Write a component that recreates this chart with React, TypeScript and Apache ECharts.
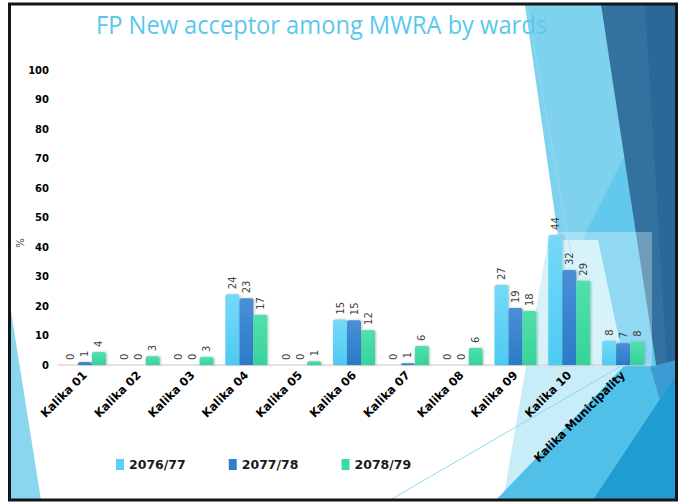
import React, { useEffect, useRef } from "react";
import * as echarts from "echarts";

const categories = [
  "Kalika 01", "Kalika 02", "Kalika 03", "Kalika 04", "Kalika 05", "Kalika 06",
  "Kalika 07", "Kalika 08", "Kalika 09", "Kalika 10", "Kalika Municipality",
];
const seriesNames = ["2076/77", "2077/78", "2078/79"];
const values2076 = [0, 0, 0, 24, 0, 15.4, 0, 0, 27.1, 44.1, 8.2];
const values2077 = [1, 0, 0, 22.6, 0, 15.2, 0.6, 0, 19.3, 32.2, 7.4];
const values2078 = [4.4, 3, 2.7, 17, 1.3, 11.9, 6.4, 5.8, 18.3, 28.6, 7.9];
const yTicks = [0, 10, 20, 30, 40, 50, 60, 70, 80, 90, 100];

const barColors = [
  ["#76d9f9", "#4ccbf3"],
  ["#4a8fd6", "#2a7bc7"],
  ["#52e0ac", "#35d39a"],
];
const legendColors = ["#5ccff3", "#2f80c8", "#3dd9a5"];

export default function App() {
  const ref = useRef<HTMLDivElement>(null);
  useEffect(() => {
    if (!ref.current) return;
    const chart = echarts.init(ref.current, undefined, { renderer: "svg" });
    const data = [values2076, values2077, values2078];
    const series = seriesNames.map((name, i) => ({
      name,
      type: "bar",
      data: data[i],
      barWidth: 14,
      barGap: "0%",
      itemStyle: {
        color: new echarts.graphic.LinearGradient(0, 0, 0, 1, [
          { offset: 0, color: barColors[i][0] },
          { offset: 1, color: barColors[i][1] },
        ]),
        borderRadius: [2, 2, 0, 0],
        shadowColor: "rgba(0,0,0,0.25)",
        shadowBlur: 2,
        shadowOffsetX: 1,
      },
      label: {
        show: true,
        position: "top",
        rotate: 90,
        align: "left",
        verticalAlign: "middle",
        distance: 5,
        color: "#404040",
        fontSize: 10,
        fontFamily: "DejaVu Sans",
        formatter: (p: any) => String(Math.round(p.value)),
      },
    }));

    const poly = (z: number, points: number[][], fill: string) => ({
      type: "polygon",
      z,
      silent: true,
      shape: { points },
      style: { fill },
    });

    chart.setOption({
      animation: false,
      backgroundColor: "#ffffff",
      legend: {
        data: seriesNames.map((n, i) => ({ name: n, itemStyle: { color: legendColors[i] } })),
        left: 111,
        top: 453,
        itemWidth: 8,
        itemHeight: 11,
        itemGap: 43,
        icon: "rect",
        textStyle: { fontSize: 12.5, fontWeight: "bold", color: "#1a1a1a", fontFamily: "DejaVu Sans" },
      },
      grid: { left: 58, right: 33, top: 70, bottom: 137 },
      xAxis: {
        type: "category",
        data: categories,
        axisLine: { lineStyle: { color: "#d9d9d9", width: 1.5 } },
        axisTick: { show: false },
        axisLabel: {
          interval: 0,
          rotate: 45,
          margin: 8,
          fontSize: 11.5,
          fontWeight: "bold",
          color: "#000",
          fontFamily: "DejaVu Sans",
        },
      },
      yAxis: {
        type: "value",
        min: 0,
        max: 100,
        interval: 10,
        axisLine: { show: false },
        axisTick: { show: false },
        splitLine: { show: false },
        axisLabel: {
          margin: 9,
          fontSize: 10,
          fontWeight: "bold",
          color: "#000",
          fontFamily: "DejaVu Sans",
          formatter: (v: number) => (yTicks.includes(v) ? String(v) : ""),
        },
      },
      graphic: [
        // left decoration
        poly(-20, [[10, 305], [10, 500], [41, 500]], "#8ad6f0"),
        // right decoration
        poly(-19, [[525, 5], [601, 5], [664, 405], [600, 405], [560, 250]], "#7fd2ee"),
        poly(-18, [[636, 133], [664, 405], [560, 405], [556, 292]], "#62c8ec"),
        poly(-17, [[601, 5], [676, 5], [676, 360], [663, 410]], "#33729f"),
        poly(-16, [[645, 5], [676, 5], [676, 360], [668, 385]], "#29699a"),
        poly(-15, [[548, 240], [598, 240], [625, 367], [510, 500], [503, 500]], "#c8ecf8"),
        poly(-14, [[496, 500], [623, 367], [650, 367], [663, 410], [640, 500]], "#50c0e8"),
        poly(-13, [[650, 367], [676, 360], [676, 400], [663, 410]], "#3d9bd3"),
        poly(-12, [[640, 500], [663, 410], [676, 400], [676, 500]], "#2aa6da"),
        poly(-11, [[593, 500], [676, 375], [676, 500]], "#1f9dd3"),
        { type: "line", z: -10, silent: true, shape: { x1: 390, y1: 500, x2: 640, y2: 355 }, style: { stroke: "#8fd8f0", lineWidth: 1 } },
        { type: "line", z: -10, silent: true, shape: { x1: 527, y1: 5, x2: 572, y2: 260 }, style: { stroke: "#8fd8f0", lineWidth: 1 } },
        // plot area veil
        { type: "rect", z: -5, silent: true, shape: { x: 58, y: 232, width: 594, height: 133 }, style: { fill: "rgba(255,255,255,0.3)" } },
        // title
        {
          type: "text",
          z: 10,
          x: 96,
          y: 24,
          scaleX: 0.91,
          style: {
            text: "FP New acceptor among MWRA by wards",
            font: '26px "Open Sans"',
            fill: "#5ac8ec",
            textVerticalAlign: "middle",
          },
        },
        // y axis name
        {
          type: "text",
          z: 10,
          x: 19,
          y: 243,
          rotation: -Math.PI / 2,
          style: {
            text: "%",
            font: '10px "DejaVu Sans"',
            fill: "#404040",
            textAlign: "center",
            textVerticalAlign: "middle",
          },
        },
        // frame
        { type: "rect", z: 50, silent: true, shape: { x: 9.5, y: 4, width: 667, height: 496 }, style: { fill: "none", stroke: "#151515", lineWidth: 3 } },
      ],
      series,
    });
    return () => chart.dispose();
  }, []);
  return (
    <div
      ref={ref}
      style={{ position: "fixed", left: 0, top: 0, width: 683, height: 502 }}
    />
  );
}
